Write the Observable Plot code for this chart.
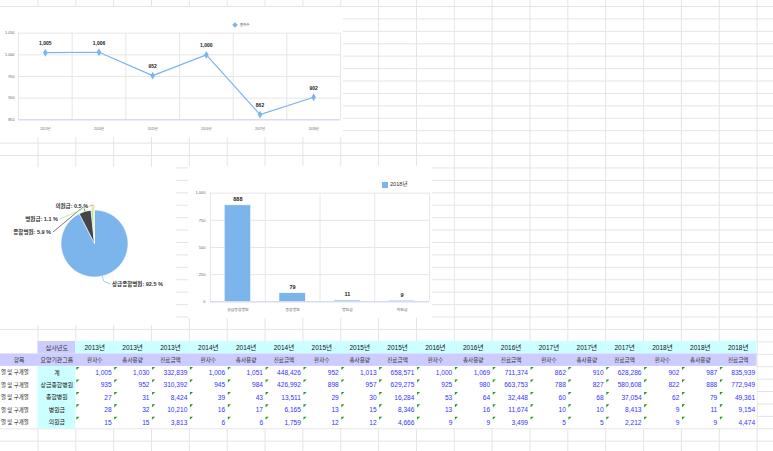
<!DOCTYPE html>
<html><head><meta charset="utf-8">
<script src="https://cdn.jsdelivr.net/npm/d3@7"></script>
<script src="https://cdn.jsdelivr.net/npm/@observablehq/plot@0.6"></script>
<style>
body{margin:0;background:#fff;}
#page{position:relative;width:773px;height:451px;overflow:hidden;background:#fff;font-family:"Liberation Sans","Noto Sans CJK KR",sans-serif;}
.box{position:absolute;background:#fff;overflow:hidden;}
.box svg{display:block;}
.lg{position:absolute;white-space:nowrap;color:#333;line-height:1;}
</style></head><body><div id="page"></div>
<script>
// ---------------- data ----------------
const years = ["2013년","2014년","2015년","2016년","2017년","2018년"];
const measures = ["환자수","총사용량","진료금액"];
const groups = ["계","상급종합병원","종합병원","병원급","의원급"];
// per year: 환자수, 총사용량, 진료금액
const rowTotal    = [1005,1030,332839, 1006,1051,448426, 952,1013,658571, 1000,1069,711374, 862,910,628286, 902,987,835939];
const rowTertiary = [935,952,310392, 945,984,426992, 898,957,629275, 925,980,663753, 788,827,580608, 822,888,772949];
const rowGeneral  = [27,31,8424, 39,43,13511, 29,30,16284, 53,64,32448, 60,68,37054, 62,79,49361];
const rowHospital = [28,32,10210, 16,17,6165, 13,15,8346, 13,16,11674, 10,10,8413, 9,11,9154];
const rowClinic   = [15,15,3813, 6,6,1759, 12,12,4666, 9,9,3499, 5,5,2212, 9,9,4474];
const rowLabel = "열 및 구개열";   // visible part of the first-column label
const yearRowTitle = "심사년도", itemTitle = "항목", groupTitle = "요양기관그룹";

// chart series
const patients = [1005,1006,952,1000,862,902];          // 계 환자수 by year
const lineTicks = [850,900,950,1000,1050];
const barGroups = ["상급종합병원","종합병원","병원급","의원급"];
const usage2018 = [888,79,11,9];                          // 2018 총사용량
const barTicks = [0,250,500,750,1000];
const pieGroups = ["상급종합병원","종합병원","병원급","의원급"];
const cost2018 = [772949,49361,9154,4474];                // 2018 진료금액
const barLegend = "2018년", lineLegend = "환자수";

// ---------------- helpers ----------------
const FONT = '"Liberation Sans","Noto Sans CJK KR",sans-serif';
const page = document.getElementById("page");
const fmt = d3.format(",");
function place(node, left, top, w, h, cls="box"){
  const d = document.createElement("div");
  d.className = cls;
  d.style.left = left+"px"; d.style.top = top+"px";
  if (w) d.style.width = w+"px";
  if (h) d.style.height = h+"px";
  if (node) d.appendChild(node);
  page.appendChild(d);
  return d;
}

// ---------------- spreadsheet grid ----------------
const grid = Plot.plot({
  width: 773, height: 451, margin: 0,
  x: {domain: [0, 21], range: [-0.4, -0.4 + 37.85*21], axis: null},
  y: {domain: [0, 36], range: [6.0, 6.0 + 12.42*36], axis: null},
  style: {background: "#fff"},
  marks: [
    Plot.ruleX(d3.range(1, 22), {stroke: "#e4e4e4", strokeWidth: 1}),
    Plot.ruleY(d3.range(0, 37), {stroke: "#e4e4e4", strokeWidth: 1})
  ]
});
place(grid, 0, 0, 773, 451);

// ---------------- line chart ----------------
const lineChart = Plot.plot({
  width: 343, height: 130,
  marginTop: 25.7, marginBottom: 17.7, marginLeft: 18, marginRight: 3,
  x: {domain: [-0.5, years.length - 0.5], axis: null},
  y: {domain: [850, 1050], axis: null},
  style: {fontFamily: FONT, background: "#fff", overflow: "visible"},
  marks: [
    Plot.ruleY(lineTicks, {stroke: "#e6e6e6"}),
    Plot.ruleX(d3.range(years.length + 1).map(i => i - 0.5), {stroke: "#e6e6e6"}),
    Plot.ruleY([850], {stroke: "#ccd6eb"}),
    Plot.text(lineTicks, {x: -0.5, y: d => d, text: d => fmt(d), textAnchor: "end", dx: -4, fontSize: 3.8, fill: "#666"}),
    Plot.text(years, {x: (d, i) => i, y: 850, dy: 8.7, text: d => d, fontSize: 3.2, fill: "#666"}),
    Plot.line(patients, {x: (d, i) => i, y: d => d, stroke: "#7cb5ec", strokeWidth: 1.2}),
    Plot.dot(patients, {x: (d, i) => i, y: d => d, symbol: "diamond", r: 2.4, fill: "#7cb5ec"}),
    Plot.text(patients, {x: (d, i) => i, y: d => d, dy: -9, text: d => fmt(d), fontSize: 5, fontWeight: "bold", fill: "#222", stroke: "#fff", strokeWidth: 1.2, paintOrder: "stroke"})
  ]
});
place(lineChart, 0, 7, 343, 130);
{
  const lg = place(null, 233, 16.5, null, null, "lg");
  lg.innerHTML = '<span style="display:inline-block;width:4px;height:4px;background:#7cb5ec;transform:rotate(45deg);margin-right:3px;vertical-align:middle"></span><span style="font-size:3.4px;vertical-align:middle">' + lineLegend + '</span>';
}

// ---------------- pie chart ----------------
const pieTotal = d3.sum(cost2018);
const pieColors = ["#7cb5ec", "#434348", "#90ed7d", "#f7a35c"];
// label offsets (layout) relative to the point just outside each slice
const labelOffsets = [[8.5, 3], [-32.6, 25.4], [-34, 14], [-5.8, 0.7]];
const pieChart = Plot.plot({
  width: 176, height: 158, margin: 0,
  style: {fontFamily: FONT, background: "#fff"},
  marks: [
    (index, scales, values, dims) => {
      const cx = 94.5, cy = 76.5, r = 33.5;
      const g = d3.create("svg:g").attr("transform", `translate(${cx},${cy})`);
      const arcs = d3.pie().sort(null).value(d => d)(cost2018);
      g.selectAll("path.s").data(arcs).join("path")
        .attr("d", d3.arc().innerRadius(0).outerRadius(r))
        .attr("fill", (d, i) => pieColors[i]).attr("stroke", "#fff").attr("stroke-width", 0.6)
        .attr("stroke-linejoin", "round");
      arcs.forEach((a, i) => {
        const m = (a.startAngle + a.endAngle) / 2;
        const ex = Math.sin(m) * r, ey = -Math.cos(m) * r;
        const ox = Math.sin(m) * (r + 5), oy = -Math.cos(m) * (r + 5);
        const [dx, dy] = labelOffsets[i];
        const lx = ox + dx, ly = oy + dy;
        const right = dx > 0;
        g.append("polyline")
          .attr("points", `${ex},${ey} ${ox},${oy} ${lx + (right ? -2 : 2)},${ly}`)
          .attr("fill", "none").attr("stroke", pieColors[i]).attr("stroke-width", 0.7);
        g.append("text")
          .attr("x", lx).attr("y", ly).attr("dy", "0.35em")
          .attr("text-anchor", right ? "start" : "end")
          .attr("font-size", 5.5).attr("font-weight", "bold").attr("fill", "#333")
          .attr("stroke", "#fff").attr("stroke-width", 1.2).attr("paint-order", "stroke")
          .text(`${pieGroups[i]}: ${(a.value / pieTotal * 100).toFixed(1)} %`);
      });
      return g.node();
    }
  ]
});
place(pieChart, 0, 167, 176, 158);

// ---------------- bar chart ----------------
const barChart = Plot.plot({
  width: 244, height: 152,
  marginTop: 26.7, marginBottom: 16.7, marginLeft: 22, marginRight: 3,
  x: {domain: [-0.5, barGroups.length - 0.5], axis: null},
  y: {domain: [0, 1000], axis: null},
  style: {fontFamily: FONT, background: "#fff", overflow: "visible"},
  marks: [
    Plot.ruleY(barTicks, {stroke: "#e6e6e6"}),
    Plot.ruleX(d3.range(barGroups.length + 1).map(i => i - 0.5), {stroke: "#e6e6e6"}),
    Plot.rect(usage2018, {x1: (d, i) => i - 0.24, x2: (d, i) => i + 0.24, y1: 0, y2: d => d, fill: "#7cb5ec", stroke: "#fff", strokeWidth: 0.5}),
    Plot.ruleY([0], {stroke: "#ccd6eb"}),
    Plot.text(barTicks, {x: -0.5, y: d => d, text: d => fmt(d), textAnchor: "end", dx: -5, fontSize: 4, fill: "#666"}),
    Plot.text(barGroups, {x: (d, i) => i, y: 0, dy: 8, text: d => d, fontSize: 3.9, fill: "#666"}),
    Plot.text(usage2018, {x: (d, i) => i, y: d => d, dy: -6, text: d => fmt(d), fontSize: 5.5, fontWeight: "bold", fill: "#222", stroke: "#fff", strokeWidth: 1.2, paintOrder: "stroke"})
  ]
});
place(barChart, 188, 166, 244, 152);
{
  const lg = place(null, 382, 176, null, null, "lg");
  lg.innerHTML = '<span style="display:inline-block;width:6px;height:6px;background:#7cb5ec;margin-right:2px;vertical-align:middle"></span><span style="font-size:5.6px;vertical-align:middle">' + barLegend + '</span>';
}

// ---------------- table ----------------
const dataRows = [rowTotal, rowTertiary, rowGeneral, rowHospital, rowClinic];
const LAV = "#ccccff", CYAN = "#ccffff";
const fills = [], centerTexts = [], rightTexts = [], corners = [];
fills.push({c1: 1, c2: 2, r1: 0, r2: 1, f: LAV});
fills.push({c1: 2, c2: 20, r1: 0, r2: 1, f: CYAN});
fills.push({c1: 0, c2: 20, r1: 1, r2: 2, f: LAV});
fills.push({c1: 1, c2: 2, r1: 2, r2: 7, f: CYAN});
centerTexts.push({c: 1, r: 0, t: yearRowTitle, w: "normal", col: "#333", s: 6.2});
centerTexts.push({c: 0, r: 1, t: itemTitle, w: "normal", col: "#333", s: 5.8});
centerTexts.push({c: 1, r: 1, t: groupTitle, w: "normal", col: "#333", s: 5.9});
years.forEach((y, yi) => measures.forEach((m, mi) => {
  const c = 2 + yi * 3 + mi;
  centerTexts.push({c, r: 0, t: y, w: "bold", col: "#111", s: 6.5});
  centerTexts.push({c, r: 1, t: m, w: "normal", col: "#333", s: 5.6});
}));
groups.forEach((g, gi) => {
  centerTexts.push({c: 1, r: 2 + gi, t: g, w: "normal", col: "#111", s: 5.9});
  dataRows[gi].forEach((v, j) => {
    rightTexts.push({c: 2 + j, r: 2 + gi, t: fmt(v)});
    corners.push({c: 2 + j, r: 2 + gi});
  });
});
const cornerSymbol = {draw(ctx, size) { const s = Math.sqrt(size) * 1.15; ctx.moveTo(0, 0); ctx.lineTo(s, 0); ctx.lineTo(0, s); ctx.closePath(); }};
const table = Plot.plot({
  width: 773, height: 92, margin: 0,
  x: {domain: [0, 20], range: [-0.4, -0.4 + 37.85 * 20], axis: null},
  y: {domain: [0, 7], range: [0, 12.45 * 7], axis: null},
  color: {type: "identity"},
  style: {fontFamily: FONT, background: "transparent", overflow: "visible"},
  marks: [
    Plot.rect([0], {x1: 0, x2: 20, y1: 0, y2: 7, fill: "#fff"}),
    Plot.rect(fills, {x1: "c1", x2: "c2", y1: "r1", y2: "r2", fill: "f"}),
    Plot.text(groups, {x: 0, y: (d, i) => 2.5 + i, text: () => rowLabel, textAnchor: "start", dx: 0.8, fontSize: 5.4, fill: "#111"}),
    Plot.text(centerTexts, {x: d => d.c + 0.5, y: d => d.r + 0.5, text: "t", fontWeight: "w", fill: "col", fontSize: d => d.s}),
    Plot.text(rightTexts, {x: d => d.c + 1, y: d => d.r + 0.5, text: "t", textAnchor: "end", dx: -2, fontSize: 6.6, fill: "#3333ff"}),
    Plot.dot(corners, {x: d => d.c, y: d => d.r, symbol: cornerSymbol, r: 1.5, fill: "#1f9a1f", dx: 0.6, dy: 0.6})
  ]
});
place(table, 0, 341, 773, 92).style.background = "transparent";
</script></body></html>
